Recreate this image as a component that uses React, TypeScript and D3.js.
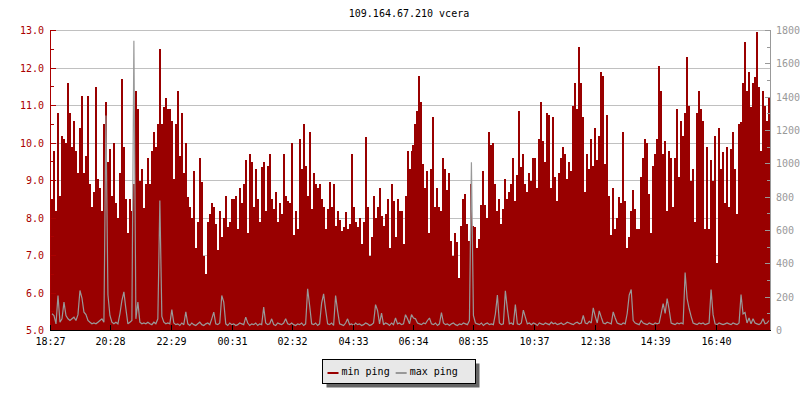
import React from "react";
import * as d3 from "d3";

const TITLE = "109.164.67.210 vcera";
const TIME_LABELS = ["18:27", "20:28", "22:29", "00:31", "02:32", "04:33", "06:34", "08:35", "10:37", "12:38", "14:39", "16:40"];
const LEFT_TICKS = [5, 6, 7, 8, 9, 10, 11, 12, 13];
const RIGHT_TICKS = [0, 200, 400, 600, 800, 1000, 1200, 1400, 1600, 1800];
const SERIES = ["min ping", "max ping"];
const STEP_MIN = 4;

const MIN_PING = [
  8.5, 9.8, 8.2, 10.8, 8.6, 10.2, 10.1, 10.0, 11.6, 10.8, 9.9, 10.6, 9.8, 9.2, 10.4, 11.25, 9.2, 9.65, 11.25, 8.9,
  8.3, 8.7, 11.5, 9.05, 8.8, 8.2, 10.5, 11.1, 9.5, 9.85, 8.6, 10.0, 8.4, 8.0, 9.2, 11.7, 9.9, 8.5, 7.6, 8.5,
  8.2, 8.9, 11.4, 10.9, 9.0, 9.3, 8.26, 8.9, 9.6, 8.9, 9.8, 10.3, 9.9, 10.5, 12.5, 10.5, 10.95, 11.2, 10.9, 10.9,
  10.6, 9.05, 10.5, 11.4, 9.65, 10.8, 9.2, 10.0, 8.55, 8.3, 8.0, 9.25, 7.2, 7.9, 9.6, 8.95, 7.0, 6.5, 7.9, 8.1,
  8.4, 8.3, 7.85, 7.15, 8.2, 7.5, 8.0, 8.6, 7.75, 7.9, 8.5, 8.5, 8.6, 7.7, 8.8, 8.4, 8.9, 9.55, 7.6, 9.7,
  9.5, 8.3, 9.3, 8.5, 7.9, 9.35, 9.5, 8.2, 9.4, 9.7, 8.5, 8.25, 8.7, 7.9, 8.4, 8.1, 9.7, 8.6, 8.45, 8.4,
  10.0, 7.55, 8.2, 7.7, 10.1, 9.3, 10.5, 9.4, 8.6, 10.3, 8.25, 9.2, 8.9, 8.8, 8.9, 8.5, 8.3, 7.7, 8.25, 8.95,
  8.3, 8.9, 7.8, 8.2, 7.95, 7.65, 7.75, 8.15, 7.7, 7.85, 9.7, 8.3, 7.9, 7.75, 8.0, 7.3, 7.9, 10.15, 8.3, 7.0,
  7.5, 8.6, 8.0, 8.3, 8.8, 8.05, 7.8, 8.1, 8.5, 7.2, 8.9, 8.45, 7.5, 8.5, 8.2, 8.2, 7.3, 8.6, 9.8, 9.3,
  9.8, 9.95, 10.5, 10.85, 11.8, 11.1, 9.45, 8.8, 9.25, 7.6, 9.3, 10.7, 8.3, 8.8, 8.3, 8.2, 9.6, 9.3, 8.75, 9.2,
  7.4, 7.0, 7.6, 7.35, 6.4, 7.8, 8.5, 8.65, 7.85, 7.4, 8.9, 7.8, 7.75, 7.2, 7.45, 8.35, 9.25, 8.35, 8.0, 10.3,
  9.95, 10.0, 8.9, 8.2, 8.5, 7.85, 8.25, 9.05, 8.5, 8.7, 8.9, 9.6, 8.45, 9.15, 10.85, 9.35, 9.7, 8.9, 8.7, 9.2,
  9.0, 9.6, 9.6, 8.8, 10.1, 11.1, 10.05, 9.5, 10.8, 10.75, 8.8, 10.7, 9.1, 8.45, 9.2, 9.6, 9.9, 9.7, 9.05, 9.5,
  9.25, 11.0, 11.6, 10.9, 12.55, 11.6, 10.7, 8.7, 9.7, 9.3, 10.1, 9.4, 10.4, 9.55, 10.2, 11.9, 11.8, 9.45, 10.75, 8.6,
  7.55, 8.8, 7.7, 8.0, 8.55, 8.4, 10.3, 8.45, 7.2, 7.5, 8.2, 8.75, 8.25, 7.7, 7.7, 9.1, 9.6, 10.1, 10.0, 8.65,
  7.6, 9.4, 9.7, 10.1, 12.05, 11.4, 9.7, 10.05, 8.2, 9.8, 9.6, 8.3, 9.6, 10.9, 9.1, 10.6, 10.2, 10.8, 12.3, 11.0,
  9.0, 9.3, 7.9, 10.8, 11.4, 10.9, 10.6, 7.7, 9.9, 7.7, 9.55, 9.0, 10.2, 6.8, 10.4, 9.3, 9.75, 8.4, 9.9, 8.3,
  9.85, 10.3, 9.3, 8.1, 10.5, 10.55, 11.6, 12.7, 11.4, 11.9, 10.95, 11.6, 11.75, 12.95, 11.5, 9.8, 11.4, 11.0, 10.6, 11.2,
];

const MAX_PING = [
  100, 90, 40, 210, 50, 70, 170, 90, 70, 60, 70, 80, 60, 95, 240, 195, 110, 95, 60, 50,
  40, 45, 40, 50, 60, 70, 50, 1290, 216, 90, 50, 40, 50, 40, 100, 180, 232, 130, 40, 50,
  60, 1738, 70, 170, 50, 40, 45, 40, 50, 40, 35, 50, 40, 70, 780, 85, 50, 40, 45, 40,
  125, 45, 35, 40, 30, 45, 35, 112, 40, 30, 45, 35, 30, 40, 50, 35, 30, 40, 45, 35,
  70, 110, 40, 35, 45, 210, 170, 40, 30, 45, 35, 40, 30, 35, 45, 40, 35, 80, 45, 30,
  40, 35, 45, 30, 40, 35, 140, 45, 35, 40, 70, 35, 30, 45, 40, 35, 45, 70, 40, 35,
  45, 35, 30, 40, 35, 45, 30, 40, 250, 150, 40, 35, 45, 30, 40, 165, 220, 125, 40, 35,
  45, 30, 210, 118, 40, 35, 30, 45, 70, 35, 40, 30, 45, 35, 40, 30, 35, 45, 40, 30,
  35, 45, 155, 120, 40, 105, 35, 45, 40, 30, 45, 35, 75, 40, 45, 35, 40, 95, 70, 40,
  95, 75, 70, 45, 40, 35, 45, 40, 60, 75, 40, 35, 45, 30, 40, 108, 45, 35, 40, 30,
  40, 45, 35, 30, 40, 35, 45, 40, 35, 60, 1010, 90, 45, 40, 35, 45, 30, 40, 45, 35,
  40, 35, 100, 212, 45, 35, 40, 238, 130, 40, 45, 35, 156, 40, 35, 45, 122, 80, 40, 45,
  35, 45, 40, 30, 45, 40, 35, 45, 40, 35, 50, 40, 45, 35, 40, 45, 35, 40, 50, 45,
  40, 35, 45, 50, 40, 45, 90, 45, 40, 55, 45, 136, 85, 45, 118, 80, 45, 40, 50, 45,
  40, 112, 75, 45, 40, 35, 45, 40, 102, 212, 246, 60, 45, 40, 35, 60, 45, 40, 35, 45,
  40, 35, 45, 40, 45, 102, 162, 102, 192, 126, 45, 40, 35, 45, 40, 45, 40, 348, 192, 132,
  85, 45, 40, 35, 45, 40, 45, 35, 40, 45, 246, 95, 40, 35, 45, 40, 35, 40, 45, 40,
  35, 45, 40, 35, 45, 216, 100, 108, 45, 75, 40, 70, 45, 40, 35, 45, 70, 40, 45, 60,
];

const RED = "#990000";
const LABEL_RED = "#aa0000";
const GRAY = "#999999";
const FONT = "'DejaVu Sans Mono', monospace";

type Pt = { t: number; v: number };

function toPoints(values: number[]): Pt[] {
  const pts = values.map((v, i) => ({ t: i * STEP_MIN, v }));
  pts.push({ t: values.length * STEP_MIN, v: values[values.length - 1] });
  return pts;
}

export default function App() {
  const n = MIN_PING.length;
  const plotL = 51, plotR = 770, plotT = 30.5, plotB = 330.5;
  const x = d3.scaleLinear().domain([0, n * STEP_MIN]).range([plotL, plotR]);
  const yL = d3.scaleLinear().domain([5, 13]).range([plotB, plotT]);
  const yR = d3.scaleLinear().domain([0, 1800]).range([plotB, plotT]);

  const minPts = toPoints(MIN_PING);
  const maxPts = MAX_PING.map((v, i) => ({ t: (i + 0.5) * STEP_MIN, v }));

  const areaGen = d3
    .area<Pt>()
    .x((d) => x(d.t))
    .y0(330)
    .y1((d) => yL(d.v))
    .curve(d3.curveStepAfter);
  const lineGen = d3
    .line<Pt>()
    .x((d) => x(d.t))
    .y((d) => yR(d.v));

  const [h0, m0] = TIME_LABELS[0].split(":").map(Number);
  const startMin = h0 * 60 + m0;
  const timeTicks = TIME_LABELS.map((lab) => {
    const [h, m] = lab.split(":").map(Number);
    const off = (h * 60 + m - startMin + 1440) % 1440;
    return { lab, px: Math.round(x(off)) - 0.5 };
  });

  const leftMinor = d3.range(5, 13.01, 0.5);
  const rightMinor = d3.range(0, 1801, 100);

  const crisp = (v: number) => Math.floor(v) + 0.5;

  const legendX = 322.5, legendY = 359.5, legendW = 153, legendH = 24;
  const swW = 11;
  const charW = 6.02;
  let cx = legendX + 5;
  const legendItems = SERIES.map((name, i) => {
    const item = { name, sx: cx, tx: cx + swW + 3, color: i === 0 ? RED : GRAY };
    cx = item.tx + name.length * charW + 6;
    return item;
  });

  return (
    <svg
      width={800}
      height={400}
      style={{ position: "absolute", left: 0, top: 0, background: "#fff" }}
      fontFamily={FONT}
      fontSize={10}
    >
      <rect x={0} y={0} width={800} height={400} fill="#fff" />
      <text x={409} y={17} textAnchor="middle" fill="#000">
        {TITLE}
      </text>

      {LEFT_TICKS.map((t) => (
        <line key={"g" + t} x1={plotL - 1} x2={plotR} y1={crisp(yL(t))} y2={crisp(yL(t))} stroke="#c0c0c0" strokeWidth={1} />
      ))}

      <path d={areaGen(minPts) || ""} fill={RED} shapeRendering="crispEdges" />

      <path d={lineGen(maxPts) || ""} fill="none" stroke={GRAY} strokeWidth={1.2} strokeLinejoin="miter" strokeMiterlimit={2} />

      <line x1={50.5} x2={50.5} y1={30} y2={331} stroke={LABEL_RED} strokeWidth={1} />
      {leftMinor.map((t) => {
        const major = Math.abs(t - Math.round(t)) < 1e-6;
        const yy = crisp(yL(t));
        return <line key={"lt" + t} x1={50} x2={major ? 56 : 54} y1={yy} y2={yy} stroke={LABEL_RED} strokeWidth={1} />;
      })}
      {LEFT_TICKS.map((t) => (
        <text key={"ll" + t} x={44} y={yL(t) + 3.5} textAnchor="end" fill={LABEL_RED}>
          {t.toFixed(1)}
        </text>
      ))}

      <line x1={770.5} x2={770.5} y1={30} y2={331} stroke={GRAY} strokeWidth={1} />
      {rightMinor.map((t) => {
        const major = t % 200 === 0;
        const yy = crisp(yR(t));
        return <line key={"rt" + t} x1={major ? 765 : 767} x2={771} y1={yy} y2={yy} stroke={GRAY} strokeWidth={1} />;
      })}
      {RIGHT_TICKS.map((t) => (
        <text key={"rl" + t} x={776} y={yR(t) + 3.5} textAnchor="start" fill={GRAY}>
          {t}
        </text>
      ))}

      <line x1={50} x2={771} y1={330.5} y2={330.5} stroke="#000" strokeWidth={1} />
      {timeTicks.map((tk) => (
        <g key={tk.lab}>
          <line x1={tk.px} x2={tk.px} y1={325} y2={331} stroke="#000" strokeWidth={1} />
          <text x={tk.px} y={345} textAnchor="middle" fill="#000">
            {tk.lab}
          </text>
        </g>
      ))}

      <rect x={legendX + 4} y={legendY + 4} width={legendW} height={legendH} fill="#666666" />
      <rect x={legendX} y={legendY} width={legendW} height={legendH} fill="#e8e8e8" stroke="#000" strokeWidth={1} />
      {legendItems.map((it) => (
        <g key={it.name}>
          <line x1={it.sx} x2={it.sx + swW} y1={373} y2={373} stroke={it.color} strokeWidth={2} />
          <text x={it.tx} y={375} fill="#000">
            {it.name}
          </text>
        </g>
      ))}
    </svg>
  );
}
